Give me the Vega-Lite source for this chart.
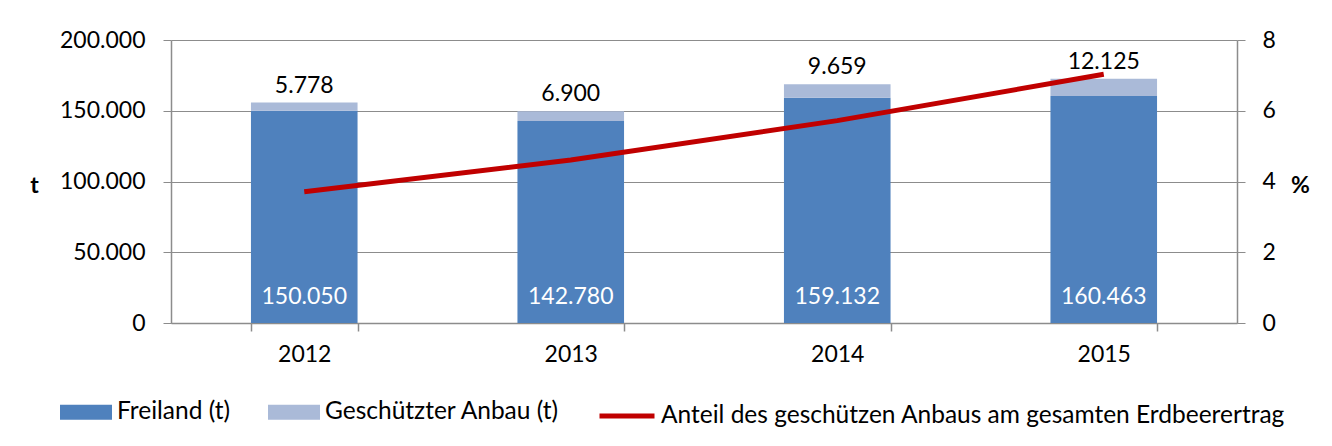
{
  "$schema": "https://vega.github.io/schema/vega-lite/v6.json",
  "width": 1066,
  "height": 283,
  "autosize": "none",
  "padding": {"left": 171, "top": 40, "right": 95, "bottom": 123},
  "background": "white",
  "config": {
    "font": "Lato",
    "view": {"stroke": null},
    "locale": {"number": {"decimal": ",", "thousands": ".", "grouping": [3], "currency": ["", " €"]}},
    "axis": {"labelFont": "Lato", "labelFontSize": 23, "labelColor": "#000000", "domainColor": "#8C8C8C", "tickColor": "#8C8C8C", "gridColor": "#8C8C8C", "titleFont": "Lato"}
  },
  "datasets": {
    "bars": [
      {"year": "2012", "serie": "Freiland (t)", "t": 150050},
      {"year": "2012", "serie": "Geschützter Anbau (t)", "t": 5778},
      {"year": "2013", "serie": "Freiland (t)", "t": 142780},
      {"year": "2013", "serie": "Geschützter Anbau (t)", "t": 6900},
      {"year": "2014", "serie": "Freiland (t)", "t": 159132},
      {"year": "2014", "serie": "Geschützter Anbau (t)", "t": 9659},
      {"year": "2015", "serie": "Freiland (t)", "t": 160463},
      {"year": "2015", "serie": "Geschützter Anbau (t)", "t": 12125}
    ],
    "share": [
      {"year": "2012", "serie": "Anteil des geschützen Anbaus am gesamten Erdbeerertrag", "anteil": 3.71},
      {"year": "2013", "serie": "Anteil des geschützen Anbaus am gesamten Erdbeerertrag", "anteil": 4.61},
      {"year": "2014", "serie": "Anteil des geschützen Anbaus am gesamten Erdbeerertrag", "anteil": 5.72},
      {"year": "2015", "serie": "Anteil des geschützen Anbaus am gesamten Erdbeerertrag", "anteil": 7.03}
    ]
  },
  "encoding": {
    "x": {
      "field": "year", "type": "nominal",
      "scale": {"paddingInner": 0.6, "paddingOuter": 0.3},
      "axis": {"title": null, "labelAngle": 0, "tickBand": "extent", "tickSize": 8, "labelPadding": 12, "domainWidth": 1.5, "tickWidth": 1.5}
    }
  },
  "layer": [
    {
      "data": {"name": "bars"},
      "transform": [
        {"stack": "t", "groupby": ["year"], "sort": [{"field": "serie", "order": "ascending"}], "as": ["t0", "t1"]}
      ],
      "layer": [
        {
          "mark": {"type": "bar"},
          "encoding": {
            "y": {
              "field": "t1", "type": "quantitative",
              "scale": {"domain": [0, 200000], "nice": false},
              "axis": {"orient": "left", "values": [0, 50000, 100000, 150000, 200000], "format": ",.0f", "grid": true, "gridWidth": 1.2, "tickSize": 8, "labelPadding": 18, "domainWidth": 1.5,
                "title": "t", "titleAngle": 0, "titleFontSize": 23, "titleFontWeight": "bold", "titleColor": "#000000", "titleAlign": "center", "titleBaseline": "middle", "titleX": -137, "titleY": 145}
            },
            "y2": {"field": "t0"},
            "color": {
              "field": "serie", "type": "nominal",
              "scale": {"domain": ["Freiland (t)", "Geschützter Anbau (t)"], "range": ["#4F81BD", "#AABAD8"]},
              "legend": {
                "title": null, "orient": "none", "direction": "horizontal", "legendX": -111, "legendY": 346,
                "symbolType": "M-1,-0.29H1V0.29H-1Z", "symbolSize": 2704, "symbolStrokeWidth": 0, "symbolOpacity": 1,
                "labelFont": "Lato", "labelFontSize": 24.5, "labelColor": "#000000", "labelOffset": 5, "columnPadding": 37, "padding": 0, "labelLimit": 500
              }
            }
          }
        },
        {
          "transform": [{"filter": "datum.serie === 'Geschützter Anbau (t)'"}],
          "mark": {"type": "text", "baseline": "alphabetic", "dy": -10, "fontSize": 23, "font": "Lato", "color": "#000000"},
          "encoding": {
            "y": {"field": "t1", "type": "quantitative"},
            "text": {"field": "t", "type": "quantitative", "format": ",.0f"}
          }
        },
        {
          "transform": [{"filter": "datum.serie === 'Freiland (t)'"}],
          "mark": {"type": "text", "baseline": "middle", "dy": -26, "fontSize": 23, "font": "Lato", "color": "#FFFFFF"},
          "encoding": {
            "y": {"datum": 0, "type": "quantitative"},
            "text": {"field": "t", "type": "quantitative", "format": ",.0f"}
          }
        }
      ]
    },
    {
      "data": {"name": "share"},
      "mark": {"type": "line", "strokeWidth": 5, "strokeCap": "butt"},
      "encoding": {
        "y": {
          "field": "anteil", "type": "quantitative",
          "scale": {"domain": [0, 8], "nice": false},
          "axis": {"orient": "right", "values": [0, 2, 4, 6, 8], "grid": false, "tickSize": 8, "labelPadding": 17, "domainWidth": 1.5,
            "title": "%", "titleAngle": 0, "titleFontSize": 23, "titleFontWeight": "bold", "titleColor": "#000000", "titleAlign": "center", "titleBaseline": "middle", "titleX": 63, "titleY": 145}
        },
        "stroke": {
          "field": "serie", "type": "nominal",
          "scale": {"range": ["#C00000"]},
          "legend": {
            "title": null, "orient": "none", "legendX": 426, "legendY": 346,
            "symbolType": "stroke", "symbolSize": 3025, "symbolStrokeWidth": 5,
            "labelFont": "Lato", "labelFontSize": 24.5, "labelColor": "#000000", "labelOffset": 4, "padding": 0, "labelLimit": 800
          }
        }
      }
    }
  ],
  "resolve": {"scale": {"y": "independent"}}
}
